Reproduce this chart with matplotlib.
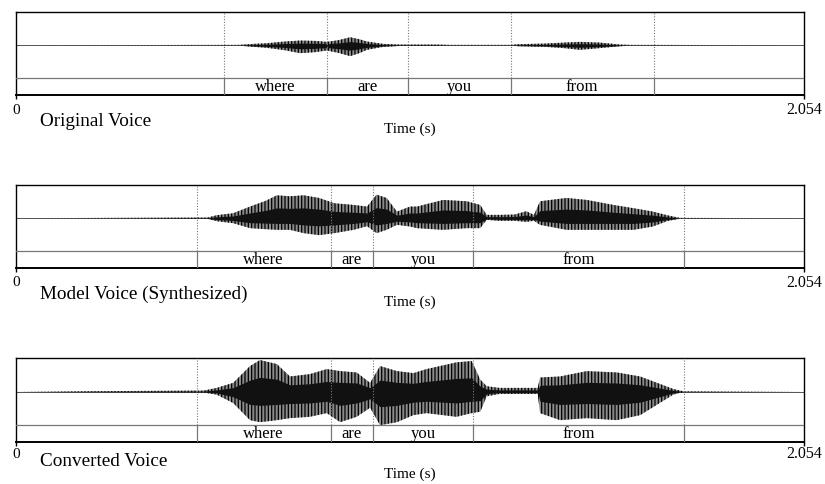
import matplotlib
matplotlib.use("Agg")
import matplotlib.pyplot as plt
import numpy as np

plt.rcParams['font.family'] = ['Liberation Serif', 'DejaVu Serif']
plt.rcParams['hatch.linewidth'] = 0.9
plt.rcParams['hatch.color'] = 'black'

T_END = 2.054
words = ["where", "are", "you", "from"]
titles = ["Original Voice", "Model Voice (Synthesized)", "Converted Voice"]

# word boundaries (s)
bounds_orig = [0.543, 0.811, 1.021, 1.289, 1.662]
bounds_model = [0.471, 0.820, 0.931, 1.190, 1.741]
bounds_conv = [0.471, 0.820, 0.931, 1.190, 1.741]

# waveform envelopes (time in s, amplitude relative to full scale)
t_orig = [0.58, 0.62, 0.654, 0.70, 0.74, 0.78, 0.81, 0.84, 0.871, 0.895, 0.915, 0.957,
          1.00, 1.05, 1.10, 1.13, 1.20, 1.289, 1.31, 1.38, 1.43, 1.47, 1.52, 1.575, 1.60]
up_orig = [0.01, 0.04, 0.06, 0.11, 0.14, 0.13, 0.10, 0.15, 0.24, 0.18, 0.11, 0.04,
           0.02, 0.02, 0.02, 0.01, 0.01, 0.01, 0.03, 0.05, 0.08, 0.10, 0.08, 0.02, 0.01]
lo_orig = [0.01, 0.05, 0.08, 0.15, 0.24, 0.21, 0.16, 0.23, 0.33, 0.24, 0.14, 0.05,
           0.02, 0.02, 0.02, 0.01, 0.01, 0.01, 0.03, 0.05, 0.09, 0.14, 0.09, 0.03, 0.01]

t_model = [0.50, 0.523, 0.566, 0.61, 0.65, 0.68, 0.714, 0.75, 0.79, 0.83, 0.88, 0.915,
           0.94, 0.966, 0.993, 1.027, 1.045, 1.113, 1.175, 1.21, 1.227, 1.26, 1.30, 1.33,
           1.35, 1.366, 1.435, 1.488, 1.557, 1.61, 1.66, 1.697, 1.73]
up_model = [0.02, 0.09, 0.15, 0.35, 0.52, 0.69, 0.66, 0.69, 0.61, 0.45, 0.40, 0.35,
            0.71, 0.61, 0.20, 0.35, 0.35, 0.55, 0.51, 0.40, 0.10, 0.10, 0.11, 0.21,
            0.10, 0.51, 0.61, 0.55, 0.40, 0.30, 0.20, 0.09, 0.01]
lo_model = [0.02, 0.09, 0.15, 0.30, 0.33, 0.35, 0.35, 0.45, 0.51, 0.45, 0.35, 0.24,
            0.45, 0.35, 0.20, 0.25, 0.30, 0.35, 0.30, 0.30, 0.05, 0.08, 0.08, 0.11,
            0.08, 0.20, 0.35, 0.35, 0.35, 0.35, 0.25, 0.09, 0.01]

t_conv = [0.489, 0.523, 0.566, 0.61, 0.636, 0.68, 0.714, 0.766, 0.81, 0.845, 0.888, 0.923,
          0.949, 0.993, 1.036, 1.07, 1.148, 1.188, 1.21, 1.227, 1.26, 1.30, 1.36, 1.366,
          1.418, 1.488, 1.566, 1.627, 1.671, 1.713, 1.739]
up_conv = [0.03, 0.11, 0.26, 0.76, 0.94, 0.82, 0.45, 0.52, 0.67, 0.61, 0.57, 0.26,
           0.76, 0.61, 0.55, 0.67, 0.87, 0.91, 0.36, 0.16, 0.11, 0.11, 0.11, 0.42,
           0.45, 0.61, 0.57, 0.45, 0.26, 0.08, 0.01]
lo_conv = [0.03, 0.09, 0.34, 0.85, 0.91, 0.85, 0.79, 0.75, 0.64, 0.91, 0.75, 0.48,
           1.00, 0.91, 0.70, 0.64, 0.75, 0.64, 0.60, 0.14, 0.07, 0.07, 0.07, 0.64,
           0.85, 0.79, 0.85, 0.70, 0.39, 0.09, 0.01]

panels = [
    (t_orig, up_orig, lo_orig, bounds_orig),
    (t_model, up_model, lo_model, bounds_model),
    (t_conv, up_conv, lo_conv, bounds_conv),
]

W, H = 825, 484
fig = plt.figure(figsize=(W / 100, H / 100), dpi=100)
fig.patch.set_facecolor("white")

left_px, right_px = 16, 804
tops = [12, 185, 358]
bottoms = [95, 268, 442]
zero_y = [110, 283, 454]
title_y = [121, 294, 462]
time_y = [129, 302, 474]

def fx(x):
    return x / W

def fy(y):
    return 1 - y / H

for i, (t, up, lo, bnds) in enumerate(panels):
    ax = fig.add_axes([fx(left_px), fy(bottoms[i]), fx(right_px - left_px),
                       (bottoms[i] - tops[i]) / H])
    ax.set_xlim(0, T_END)
    ax.set_ylim(-1.5, 1.0)
    # zero line
    ax.axhline(0, color="#555555", lw=0.7, zorder=1)
    tt = np.array([0.0] + list(t) + [T_END])
    uu = np.array([0.0] + list(up) + [0.0])
    ll = np.array([0.0] + list(lo) + [0.0])
    ax.fill_between(tt, -ll, uu, facecolor="#8a8a8a", edgecolor="black",
                    hatch="|||||", lw=0, zorder=2)
    ax.fill_between(tt, -ll * 0.45, uu * 0.45, color="#111111", lw=0, zorder=3)
    # tier
    ax.axhline(-1.0, color="#777777", lw=0.9, zorder=4)
    for b in bnds:
        ax.plot([b, b], [-1.0, 1.0], color="#777777", lw=0.8, ls=(0, (1, 1.5)), zorder=4)
        ax.plot([b, b], [-1.5, -1.0], color="#777777", lw=0.9, zorder=4)
    for k, w in enumerate(words):
        ax.text((bnds[k] + bnds[k + 1]) / 2, -1.26, w, ha="center", va="center",
                fontsize=12)
    for s in ax.spines.values():
        s.set_linewidth(1.0)
        s.set_color("black")
    ax.spines["bottom"].set_linewidth(1.4)
    ax.set_yticks([])
    ax.set_xticks([0, T_END])
    ax.set_xticklabels([])
    ax.tick_params(axis="x", direction="out", length=3, width=1.0)

    fig.text(fx(left_px), fy(zero_y[i]), "0", ha="center", va="center", fontsize=11)
    fig.text(fx(right_px), fy(zero_y[i]), "2.054", ha="center", va="center", fontsize=11.5)
    fig.text(fx(40), fy(title_y[i]), titles[i], ha="left", va="center", fontsize=13.8)
    fig.text(fx(410), fy(time_y[i]), "Time (s)", ha="center", va="center", fontsize=11)

fig.savefig("out.png", dpi=100, facecolor="white")
